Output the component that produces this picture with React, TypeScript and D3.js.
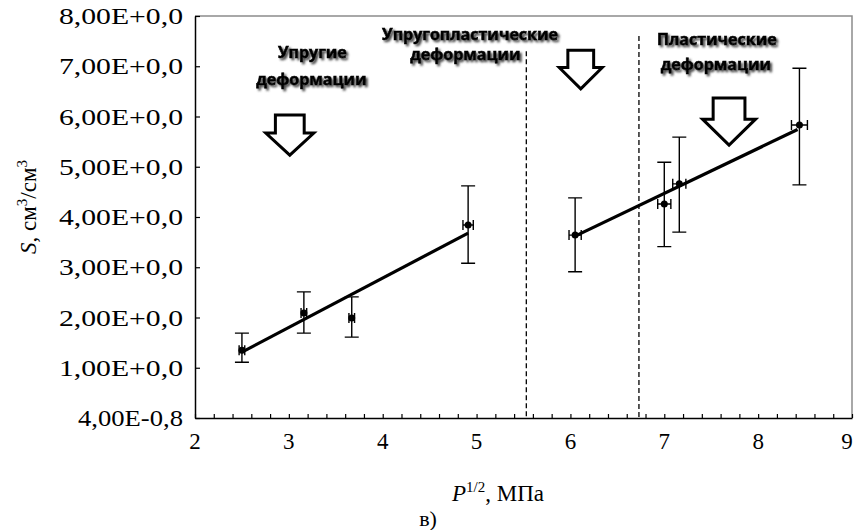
import { useRef, useEffect } from 'react';
import * as d3 from 'd3';

// measured points: P^1/2 (MPa) vs S (cm3/cm3)
const px = [2.5, 3.16, 3.67, 4.91, 6.05, 7.0, 7.16, 8.44];
const py = [1.35, 2.09, 1.99, 3.84, 3.64, 4.26, 4.66, 5.83];
const yLow = [1.11, 1.69, 1.61, 3.08, 2.91, 3.41, 3.7, 4.64];
const yHigh = [1.69, 2.51, 2.41, 4.62, 4.38, 5.09, 5.59, 6.96];
const xErr = [0.03, 0.03, 0.03, 0.055, 0.065, 0.07, 0.07, 0.085];

// linear fits for the two regions
const fit1X = [2.5, 4.91];
const fit1Y = [1.31, 3.68];
const fit2X = [6.05, 8.42];
const fit2Y = [3.62, 5.74];

const xTicks = [2, 3, 4, 5, 6, 7, 8, 9];
const yTicks = [0, 1, 2, 3, 4, 5, 6, 7, 8];
const yTickLabels = [
  '4,00E-0,8',
  '1,00E+0,0',
  '2,00E+0,0',
  '3,00E+0,0',
  '4,00E+0,0',
  '5,00E+0,0',
  '6,00E+0,0',
  '7,00E+0,0',
  '8,00E+0,0',
];

// region borders
const borderX = [5.53, 6.73];
const borderTop = [7.3, 7.6];

const notes = [
  { text: 'Упругие', x: 3.25, y: 7.16 },
  { text: 'деформации', x: 3.24, y: 6.63 },
  { text: 'Упругопластические', x: 4.93, y: 7.52 },
  { text: 'деформации', x: 4.88, y: 7.12 },
  { text: 'Пластические', x: 7.56, y: 7.42 },
  { text: 'деформации', x: 7.55, y: 6.92 },
];

const arrows = [
  { x: 3.01, top: 6.03, bottom: 5.23, w: 48 },
  { x: 6.11, top: 7.32, bottom: 6.55, w: 43 },
  { x: 7.69, top: 6.37, bottom: 5.43, w: 53 },
];

const serif = "'Liberation Serif', 'Times New Roman', Tinos, serif";
const sans = "'Open Sans', 'Liberation Sans', sans-serif";

export default function App() {
  const svgRef = useRef(null);

  useEffect(() => {
    const svg = d3.select(svgRef.current);
    svg.selectAll('*').remove();

    const width = 854;
    const height = 530;
    const x = d3.scaleLinear().domain([2, 9]).range([195, 852]);
    const y = d3.scaleLinear().domain([0, 8]).range([418, 16]);

    const defs = svg.append('defs');
    const f = defs
      .append('filter')
      .attr('id', 'shadow')
      .attr('x', '-10%')
      .attr('y', '-30%')
      .attr('width', '130%')
      .attr('height', '170%');
    f.append('feGaussianBlur').attr('in', 'SourceAlpha').attr('stdDeviation', 1.3);
    f.append('feOffset').attr('dx', 1.5).attr('dy', 1.5).attr('result', 'b');
    f.append('feFlood').attr('flood-color', '#444');
    f.append('feComposite').attr('in2', 'b').attr('operator', 'in');
    const m = f.append('feMerge');
    m.append('feMergeNode');
    m.append('feMergeNode').attr('in', 'SourceGraphic');

    svg.append('rect').attr('width', width).attr('height', height).attr('fill', '#fff');

    // frame: grey top/right
    svg
      .append('path')
      .attr('d', `M${x(2)},${y(8)}H${x(9)}V${y(0)}`)
      .attr('fill', 'none')
      .attr('stroke', '#8c8c8c')
      .attr('stroke-width', 1.5);

    // x axis with inward minor ticks
    svg
      .append('g')
      .attr('transform', `translate(0,${y(0)})`)
      .call(
        d3
          .axisBottom(x)
          .tickValues(d3.range(0, 36).map((i) => 2 + i * 0.2))
          .tickSize(-4)
          .tickSizeOuter(0)
          .tickFormat(() => '')
      )
      .call((g) => g.select('.domain').attr('stroke-width', 1.5))
      .call((g) => g.selectAll('.tick line').attr('stroke-width', 1.2));

    // y axis with inward ticks
    svg
      .append('g')
      .attr('transform', `translate(${x(2)},0)`)
      .call(
        d3
          .axisLeft(y)
          .tickValues(yTicks)
          .tickSize(-5)
          .tickSizeOuter(0)
          .tickFormat(() => '')
      )
      .call((g) => g.select('.domain').attr('stroke-width', 1.5))
      .call((g) => g.selectAll('.tick line').attr('stroke-width', 1.2));

    svg
      .append('g')
      .selectAll('text')
      .data(xTicks)
      .enter()
      .append('text')
      .attr('x', (d) => (d === 9 ? x(d) - 5 : x(d)))
      .attr('y', 449)
      .attr('text-anchor', 'middle')
      .style('font-family', serif)
      .style('font-size', '23px')
      .text((d) => d);

    svg
      .append('g')
      .selectAll('text')
      .data(yTicks)
      .enter()
      .append('text')
      .attr('x', 183)
      .attr('y', (d) => y(d) + 8)
      .attr('text-anchor', 'end')
      .style('font-family', serif)
      .style('font-size', '23px')
      .attr('textLength', (d, i) => (yTickLabels[i].includes('+') ? 124 : 105))
      .attr('lengthAdjust', 'spacingAndGlyphs')
      .text((d, i) => yTickLabels[i]);

    // axis titles
    const xt = svg
      .append('text')
      .attr('x', 498)
      .attr('y', 501)
      .attr('text-anchor', 'middle')
      .style('font-family', serif)
      .style('font-size', '23px');
    xt.append('tspan').style('font-style', 'italic').text('P');
    xt.append('tspan').style('font-size', '15px').attr('dy', -9).text('1/2');
    xt.append('tspan').attr('dy', 9).text(', МПа');

    const yt = svg
      .append('text')
      .attr('transform', 'translate(36,207) rotate(-90)')
      .attr('text-anchor', 'middle')
      .style('font-family', serif)
      .style('font-size', '23px');
    yt.append('tspan').style('font-style', 'italic').text('S');
    yt.append('tspan').text(', см');
    yt.append('tspan').style('font-size', '15px').attr('dy', -9).text('3');
    yt.append('tspan').attr('dy', 9).text('/см');
    yt.append('tspan').style('font-size', '15px').attr('dy', -9).text('3');

    svg
      .append('text')
      .attr('x', 428)
      .attr('y', 526)
      .attr('text-anchor', 'middle')
      .style('font-family', serif)
      .style('font-size', '22px')
      .text('в)');

    // dashed region borders
    svg
      .append('g')
      .selectAll('line')
      .data(borderX)
      .enter()
      .append('line')
      .attr('x1', (d) => x(d))
      .attr('x2', (d) => x(d))
      .attr('y1', (d, i) => y(borderTop[i]))
      .attr('y2', y(0))
      .attr('stroke', '#000')
      .attr('stroke-width', 1.3)
      .attr('stroke-dasharray', '5,3');

    // fit lines
    const line = d3
      .line()
      .x((d) => x(d[0]))
      .y((d) => y(d[1]));
    [
      [fit1X, fit1Y],
      [fit2X, fit2Y],
    ].forEach(([fx, fy]) => {
      svg
        .append('path')
        .attr('d', line(fx.map((v, i) => [v, fy[i]])))
        .attr('fill', 'none')
        .attr('stroke', '#000')
        .attr('stroke-width', 3.2);
    });

    // error bars and markers
    const pts = svg.append('g').attr('stroke', '#000').attr('stroke-width', 1.4);
    px.forEach((xv, i) => {
      const cx = x(xv);
      const cy = y(py[i]);
      pts
        .append('path')
        .attr(
          'd',
          `M${cx},${y(yLow[i])}V${y(yHigh[i])}` +
            `M${cx - 7},${y(yLow[i])}h14M${cx - 7},${y(yHigh[i])}h14` +
            `M${x(xv - xErr[i])},${cy}H${x(xv + xErr[i])}` +
            `M${x(xv - xErr[i])},${cy - 5}v10M${x(xv + xErr[i])},${cy - 5}v10`
        )
        .attr('fill', 'none');
      pts
        .append('circle')
        .attr('cx', cx)
        .attr('cy', cy)
        .attr('r', 3.5)
        .attr('fill', '#000')
        .attr('stroke', 'none');
    });

    // hollow down arrows
    arrows.forEach((a) => {
      const cx = x(a.x);
      const t = y(a.top);
      const b = y(a.bottom);
      const hw = a.w / 2;
      const sw = a.w * 0.3;
      const hy = t + (b - t) * 0.45;
      svg
        .append('path')
        .attr(
          'd',
          `M${cx - sw},${t}H${cx + sw}V${hy}H${cx + hw}L${cx},${b}L${cx - hw},${hy}H${cx - sw}Z`
        )
        .attr('fill', '#fff')
        .attr('stroke', '#000')
        .attr('stroke-width', 3)
        .attr('stroke-linejoin', 'miter');
    });

    // region captions
    svg
      .append('g')
      .attr('filter', 'url(#shadow)')
      .selectAll('text')
      .data(notes)
      .enter()
      .append('text')
      .attr('x', (d) => x(d.x))
      .attr('y', (d) => y(d.y))
      .attr('text-anchor', 'middle')
      .style('font-family', sans)
      .style('font-weight', 'bold')
      .style('font-size', '16px')
      .attr('stroke', '#000')
      .attr('stroke-width', 0.6)
      .text((d) => d.text);

    return () => {
      svg.selectAll('*').remove();
    };
  }, []);

  return (
    <svg
      ref={svgRef}
      width="854"
      height="530"
      style={{ position: 'absolute', left: 0, top: 0 }}
    />
  );
}
